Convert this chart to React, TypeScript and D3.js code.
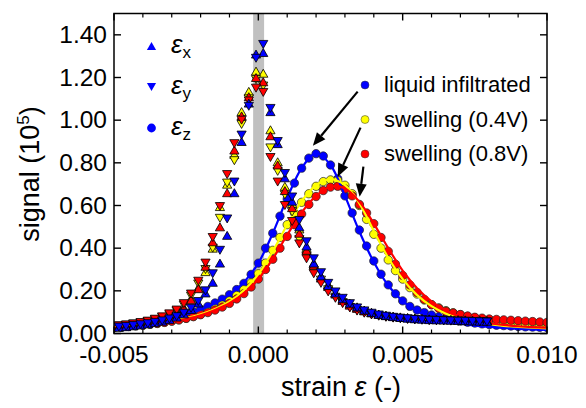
import React from "react";
import * as d3 from "d3";

// ---------- data ----------
// strain positions of the in-plane (triangle) data
const strainTri = [
  -0.00483, -0.00458, -0.00433, -0.00408, -0.00383, -0.00358, -0.00333, -0.00308, -0.00283, -0.00258,
  -0.00233, -0.00208, -0.00183, -0.00158, -0.00133, -0.00108, -0.00083, -0.00058, -0.00033, -0.00008,
  0.00017, 0.00042, 0.00067, 0.00092, 0.00117, 0.00142, 0.00167, 0.00192, 0.00217, 0.00242,
  0.00267, 0.00292, 0.00317, 0.00342, 0.00367, 0.00392, 0.00417, 0.00442, 0.00467, 0.00492,
  0.00517, 0.00542, 0.00567, 0.00592, 0.00617, 0.00642, 0.00667, 0.00692, 0.00717, 0.00742,
  0.00767, 0.00792,
];
const epsXBlue = [
  0.029, 0.032, 0.036, 0.040, 0.045, 0.051, 0.058, 0.066, 0.077, 0.092, 0.113, 0.143, 0.19, 0.24, 0.33, 0.46, 0.66, 0.90, 1.08,
  1.31,
  1.317, 1.04, 0.89, 0.73, 0.62, 0.50, 0.41, 0.33, 0.27, 0.225, 0.19, 0.163, 0.142,
  0.125, 0.11, 0.099, 0.09, 0.084, 0.079, 0.075, 0.072, 0.069, 0.067, 0.065, 0.064, 0.063, 0.062, 0.061, 0.06, 0.059, 0.058, 0.057,
];
const epsYBlue = [
  0.030, 0.033, 0.037, 0.041, 0.046, 0.052, 0.059, 0.068, 0.079, 0.095, 0.118, 0.15, 0.20, 0.28, 0.39, 0.537, 0.71, 0.93, 1.065,
  1.29,
  1.355, 1.055, 0.90, 0.75, 0.64, 0.53, 0.43, 0.35, 0.285, 0.235, 0.195, 0.165, 0.14,
  0.12, 0.106, 0.095, 0.087, 0.081, 0.076, 0.072, 0.069, 0.066, 0.064, 0.062, 0.061, 0.06, 0.059, 0.058, 0.057, 0.056, 0.055, 0.054,
];
const epsXYellow = [
  0.033, 0.037, 0.041, 0.046, 0.052, 0.060, 0.069, 0.081, 0.097, 0.122, 0.165, 0.215, 0.29, 0.40, 0.595, 0.70, 0.84, 1.04, 1.135,
  1.23,
  1.22, 0.955, 0.805, 0.69, 0.61, 0.49, 0.40, 0.33, 0.27, 0.23, 0.19, 0.16, 0.137,
  0.12, 0.108, 0.098, 0.091, 0.085, 0.081, 0.078, 0.075, 0.073, 0.071, 0.069, 0.068, 0.067, 0.066, 0.065, 0.064, 0.063, 0.062, 0.061,
];
const epsYYellow = [
  0.035, 0.039, 0.044, 0.049, 0.056, 0.064, 0.075, 0.088, 0.105, 0.132, 0.175, 0.232, 0.30, 0.40, 0.54, 0.705, 0.81, 0.98, 1.10,
  1.19,
  1.16, 0.87, 0.76, 0.65, 0.57, 0.44, 0.36, 0.29, 0.25, 0.205, 0.17, 0.145, 0.122,
  0.108, 0.097, 0.088, 0.082, 0.077, 0.073, 0.07, 0.067, 0.065, 0.063, 0.062, 0.061, 0.06, 0.059, 0.058, 0.057, 0.056, 0.055, 0.054,
];
const epsXRed = [
  0.032, 0.036, 0.040, 0.045, 0.051, 0.058, 0.067, 0.078, 0.093, 0.117, 0.158, 0.21, 0.315, 0.43, 0.50, 0.66, 0.86, 1.02, 1.11,
  1.20,
  1.18, 0.927, 0.79, 0.67, 0.59, 0.47, 0.39, 0.32, 0.26, 0.22, 0.185, 0.155, 0.133,
  0.118, 0.106, 0.097, 0.09, 0.084, 0.08, 0.077, 0.074, 0.072, 0.07, 0.068, 0.067, 0.066, 0.065, 0.064, 0.063, 0.062, 0.061, 0.06,
];
const epsYRed = [
  0.036, 0.040, 0.045, 0.051, 0.058, 0.067, 0.078, 0.092, 0.110, 0.140, 0.185, 0.245, 0.33, 0.45, 0.595, 0.745, 0.89, 1.00, 1.09,
  1.15,
  1.13, 0.825, 0.71, 0.60, 0.525, 0.42, 0.35, 0.28, 0.235, 0.195, 0.165, 0.14, 0.12,
  0.105, 0.095, 0.087, 0.081, 0.076, 0.072, 0.069, 0.066, 0.064, 0.062, 0.061, 0.06, 0.059, 0.058, 0.057, 0.056, 0.055, 0.054, 0.053,
];

// strain positions of the out-of-plane (circle) data
const strainCirc = [
  -0.005, -0.00475, -0.0045, -0.00425, -0.004, -0.00375, -0.0035, -0.00325, -0.003, -0.00275,
  -0.0025, -0.00225, -0.002, -0.00175, -0.0015, -0.00125, -0.001, -0.00075, -0.0005, -0.00025,
  0.0, 0.00025, 0.0005, 0.00075, 0.001, 0.00125, 0.0015, 0.00175, 0.002, 0.00225,
  0.0025, 0.00275, 0.003, 0.00325, 0.0035, 0.00375, 0.004, 0.00425, 0.0045, 0.00475,
  0.005, 0.00525, 0.0055, 0.00575, 0.006, 0.00625, 0.0065, 0.00675, 0.007, 0.00725,
  0.0075, 0.00775, 0.008, 0.00825, 0.0085, 0.00875, 0.009, 0.00925, 0.0095, 0.00975, 0.01,
];
const epsZLiquid = [
  0.030, 0.033, 0.037, 0.041, 0.045, 0.050, 0.056, 0.063, 0.071, 0.080,
  0.090, 0.101, 0.113, 0.127, 0.143, 0.161, 0.182, 0.206, 0.235, 0.277,
  0.330, 0.400, 0.470, 0.550, 0.630, 0.705, 0.775, 0.822, 0.843, 0.832,
  0.790, 0.725, 0.645, 0.565, 0.485, 0.410, 0.340, 0.278, 0.228, 0.186,
  0.153, 0.127, 0.110, 0.098, 0.087, 0.078, 0.071, 0.064, 0.058, 0.053,
  0.049, 0.045, 0.042, 0.039, 0.037, 0.035, 0.033, 0.031, 0.030, 0.029, 0.028,
];
const epsZSwell04 = [
  0.028, 0.030, 0.033, 0.036, 0.039, 0.043, 0.047, 0.052, 0.058, 0.064,
  0.071, 0.080, 0.090, 0.102, 0.116, 0.133, 0.153, 0.178, 0.205, 0.237,
  0.280, 0.330, 0.390, 0.450, 0.510, 0.565, 0.615, 0.655, 0.690, 0.712,
  0.720, 0.717, 0.695, 0.655, 0.600, 0.535, 0.465, 0.400, 0.345, 0.295,
  0.255, 0.215, 0.185, 0.157, 0.135, 0.120, 0.107, 0.097, 0.088, 0.080,
  0.074, 0.068, 0.063, 0.059, 0.055, 0.052, 0.049, 0.046, 0.044, 0.042, 0.040,
];
const epsZSwell08 = [
  0.028, 0.031, 0.034, 0.037, 0.040, 0.044, 0.048, 0.053, 0.058, 0.064,
  0.071, 0.079, 0.088, 0.098, 0.110, 0.124, 0.141, 0.162, 0.187, 0.218,
  0.255, 0.300, 0.348, 0.400, 0.455, 0.510, 0.560, 0.605, 0.642, 0.670,
  0.686, 0.690, 0.678, 0.645, 0.605, 0.565, 0.515, 0.450, 0.385, 0.325,
  0.272, 0.228, 0.192, 0.160, 0.135, 0.118, 0.104, 0.096, 0.089, 0.082,
  0.076, 0.072, 0.068, 0.066, 0.064, 0.062, 0.060, 0.058, 0.056, 0.054, 0.052,
];

// fitted curves
const strainFit = [
  -0.005, -0.0045, -0.004, -0.0035, -0.003, -0.0025, -0.002, -0.0015, -0.001, -0.0005,
  0.0, 0.0005, 0.001, 0.0015, 0.002, 0.0025, 0.003, 0.0035, 0.004, 0.0045,
  0.005, 0.0055, 0.006, 0.0065, 0.007, 0.0075, 0.008, 0.0085, 0.009, 0.0095, 0.01,
];
const fitLiquid = [
  0.034, 0.040, 0.048, 0.058, 0.072, 0.089, 0.112, 0.142, 0.183, 0.240,
  0.330, 0.470, 0.635, 0.775, 0.845, 0.790, 0.645, 0.478, 0.335, 0.225,
  0.152, 0.105, 0.076, 0.058, 0.046, 0.037, 0.031, 0.026, 0.022, 0.019, 0.017,
];
const fitSwell04 = [
  0.030, 0.035, 0.041, 0.049, 0.059, 0.072, 0.090, 0.115, 0.150, 0.203,
  0.278, 0.385, 0.510, 0.620, 0.695, 0.722, 0.695, 0.610, 0.480, 0.355,
  0.255, 0.180, 0.128, 0.093, 0.070, 0.054, 0.044, 0.036, 0.031, 0.027, 0.024,
];
const fitSwell08 = [
  0.028, 0.032, 0.037, 0.044, 0.055, 0.068, 0.085, 0.110, 0.142, 0.188,
  0.255, 0.350, 0.462, 0.567, 0.645, 0.688, 0.680, 0.618, 0.515, 0.400,
  0.295, 0.212, 0.150, 0.108, 0.079, 0.060, 0.048, 0.040, 0.034, 0.030, 0.028,
];

// axis ticks
const xMajorTicks = [-0.005, 0.0, 0.005, 0.01];
const xTickLabels = ["-0.005", "0.000", "0.005", "0.010"];
const xMinorTicks = [-0.004, -0.003, -0.002, -0.001, 0.001, 0.002, 0.003, 0.004, 0.006, 0.007, 0.008, 0.009];
const yTicks = [0, 0.2, 0.4, 0.6, 0.8, 1.0, 1.2, 1.4];
const yTickLabels = ["0.00", "0.20", "0.40", "0.60", "0.80", "1.00", "1.20", "1.40"];

// reference band around zero strain
const bandStrain = [-0.00018, 0.0002];

// legend labels
const legendLabels = ["liquid infiltrated", "swelling (0.4V)", "swelling (0.8V)"];
const axisSubs = ["x", "y", "z"];

// arrows (strain, signal) from legend to peaks
const arrowFrom = [[0.00344, 1.134], [0.00354, 0.965], [0.00364, 0.782]];
const arrowTo = [[0.00189, 0.88], [0.00275, 0.735], [0.00351, 0.641]];

const BLUE = "#0000ff";
const YELLOW = "#ffff00";
const RED = "#ff0000";
const FONT = "'Liberation Sans', Arial, Helvetica, sans-serif";

const triUp = "M0,-4 L4.6,4 L-4.6,4 Z";
const triDown = "M0,4 L4.6,-4 L-4.6,-4 Z";

export default function App() {
  const W = 586;
  const H = 408;
  const x = d3.scaleLinear().domain([-0.005, 0.01]).range([114, 547]);
  const y = d3.scaleLinear().domain([0, 1.5]).range([333.5, 13.5]);
  const [x0, x1] = x.range();
  const [y0, y1] = y.range();

  const line = d3
    .line<number>()
    .x((_, i) => x(strainFit[i]))
    .y((d) => y(d))
    .curve(d3.curveCatmullRom.alpha(0.5));

  const triSeries = [
    { vals: epsXYellow, path: triUp, color: YELLOW },
    { vals: epsYYellow, path: triDown, color: YELLOW },
    { vals: epsXRed, path: triUp, color: RED },
    { vals: epsYRed, path: triDown, color: RED },
    { vals: epsXBlue, path: triUp, color: BLUE },
    { vals: epsYBlue, path: triDown, color: BLUE },
  ];
  const circSeries = [
    { vals: epsZLiquid, fit: fitLiquid, color: BLUE },
    { vals: epsZSwell04, fit: fitSwell04, color: YELLOW },
    { vals: epsZSwell08, fit: fitSwell08, color: RED },
  ];

  const arrows = arrowFrom.map((f, i) => {
    const sx = x(f[0]), sy = y(f[1]);
    const ex = x(arrowTo[i][0]), ey = y(arrowTo[i][1]);
    const ang = Math.atan2(ey - sy, ex - sx);
    const L = 13, Wd = 5.5;
    const bx = ex - L * Math.cos(ang), by = ey - L * Math.sin(ang);
    const px = -Math.sin(ang) * Wd, py = Math.cos(ang) * Wd;
    return { sx, sy, bx, by, ex, ey, head: `M${ex},${ey} L${bx + px},${by + py} L${bx - px},${by - py} Z` };
  });

  const legendMarkers = [triUp, triDown, null];

  return (
    <svg
      width={W}
      height={H}
      style={{ position: "absolute", left: 0, top: 0, background: "#fff" }}
      fontFamily={FONT}
    >
      <defs>
        <clipPath id="plotClip">
          <rect x={x0} y={y1} width={x1 - x0} height={y0 - y1} />
        </clipPath>
      </defs>
      <rect x={0} y={0} width={W} height={H} fill="#fff" />

      {/* gray band */}
      <rect
        x={x(bandStrain[0])}
        y={y1}
        width={x(bandStrain[1]) - x(bandStrain[0])}
        height={y0 - y1}
        fill="#c0c0c0"
      />

      <g clipPath="url(#plotClip)">
        {circSeries.map((s, si) => (
          <g key={"c" + si}>
            {s.vals.map((v, i) => (
              <circle key={i} cx={x(strainCirc[i])} cy={y(v)} r={4.2} fill={s.color} stroke="#222" strokeWidth={0.7} />
            ))}
          </g>
        ))}
        {circSeries.map((s, si) => (
          <path key={"l" + si} d={line(s.fit) || ""} fill="none" stroke={s.color} strokeWidth={2.2} />
        ))}
        {triSeries.map((s, si) => (
          <g key={"t" + si}>
            {s.vals.map((v, i) => (
              <path
                key={i}
                d={s.path}
                transform={`translate(${x(strainTri[i])},${y(v)})`}
                fill={s.color}
                stroke="#000"
                strokeWidth={0.8}
              />
            ))}
          </g>
        ))}
      </g>

      {/* frame */}
      <rect x={x0} y={y1} width={x1 - x0} height={y0 - y1} fill="none" stroke="#000" strokeWidth={1.5} />

      {/* x ticks */}
      {xMajorTicks.map((t, i) => (
        <g key={"xm" + i}>
          <line x1={x(t)} x2={x(t)} y1={y0} y2={y0 - 7} stroke="#000" strokeWidth={1.4} />
          <line x1={x(t)} x2={x(t)} y1={y1} y2={y1 + 7} stroke="#000" strokeWidth={1.4} />
          <text x={x(t)} y={363} fontSize={24.5} textAnchor="middle" fill="#000">
            {xTickLabels[i]}
          </text>
        </g>
      ))}
      {xMinorTicks.map((t, i) => (
        <g key={"xn" + i}>
          <line x1={x(t)} x2={x(t)} y1={y0} y2={y0 - 4} stroke="#000" strokeWidth={1.2} />
          <line x1={x(t)} x2={x(t)} y1={y1} y2={y1 + 4} stroke="#000" strokeWidth={1.2} />
        </g>
      ))}
      {/* y ticks */}
      {yTicks.map((t, i) => (
        <g key={"y" + i}>
          <line x1={x0} x2={x0 + 7} y1={y(t)} y2={y(t)} stroke="#000" strokeWidth={1.4} />
          <line x1={x1} x2={x1 - 7} y1={y(t)} y2={y(t)} stroke="#000" strokeWidth={1.4} />
          <text x={107} y={y(t) + 8} fontSize={24.5} textAnchor="end" fill="#000">
            {yTickLabels[i]}
          </text>
        </g>
      ))}

      {/* axis titles */}
      <text x={341} y={396} fontSize={27} textAnchor="middle" fill="#000">
        strain <tspan fontStyle="italic">ε</tspan> (-)
      </text>
      <text transform="translate(39,174) rotate(-90)" fontSize={27} textAnchor="middle" fill="#000">
        signal (10<tspan fontSize={17} dy={-10}>5</tspan>
        <tspan dy={10}>)</tspan>
      </text>

      {/* left legend */}
      {axisSubs.map((sub, i) => (
        <g key={"ll" + i}>
          {legendMarkers[i] ? (
            <path d={legendMarkers[i] as string} transform={`translate(151.5,${46 + i * 41})`} fill={BLUE} />
          ) : (
            <circle cx={151.5} cy={46 + i * 41} r={4.4} fill={BLUE} />
          )}
          <text x={171} y={53 + i * 41} fontSize={26} fill="#000">
            <tspan fontStyle="italic">ε</tspan>
            <tspan fontSize={17} dy={5}>{sub}</tspan>
          </text>
        </g>
      ))}

      {/* right legend */}
      {circSeries.map((s, i) => (
        <g key={"lg" + i}>
          <circle cx={365} cy={85 + i * 34.5} r={4} fill={s.color} stroke="#333" strokeWidth={0.5} />
          <text x={384} y={92 + i * 34.5} fontSize={22} fill="#000">
            {legendLabels[i]}
          </text>
        </g>
      ))}

      {/* arrows */}
      {arrows.map((a, i) => (
        <g key={"a" + i}>
          <line x1={a.sx} y1={a.sy} x2={a.bx} y2={a.by} stroke="#000" strokeWidth={2.2} />
          <path d={a.head} fill="#000" />
        </g>
      ))}
    </svg>
  );
}
